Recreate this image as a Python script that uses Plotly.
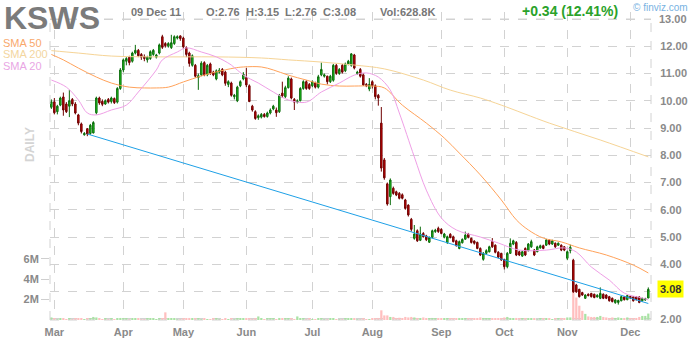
import pandas as pd
import plotly.graph_objects as go

# ---------------- data ----------------
holidays = ["2011-04-22", "2011-05-30", "2011-07-04", "2011-09-05", "2011-11-24"]
dates = [d.strftime("%Y-%m-%d") for d in pd.bdate_range("2011-02-28", "2011-12-09")
         if d.strftime("%Y-%m-%d") not in holidays]

opens = [9.76, 9.96, 9.6, 9.84, 10.14, 9.88, 9.8, 10.05, 9.88, 9.48,
         9.15, 8.75, 8.97, 8.8, 8.82, 9.56, 10.1, 9.98, 9.88, 10.05,
         9.97, 10.08, 9.95, 10.45, 11.13, 11.45, 11.6, 11.45, 11.75, 11.85,
         11.7, 11.62, 11.5, 11.55, 11.7, 11.6, 11.75, 12.35, 12.1, 12.0,
         11.95, 12.1, 12.3, 12.38, 12.3, 11.95, 11.75, 11.3, 11.3, 10.85,
         10.95, 11.4, 10.95, 11.35, 11.05, 10.8, 11.05, 11.15, 11.05, 10.6,
         10.65, 10.15, 10.0, 10.55, 10.8, 10.85, 10.55, 9.8, 9.6, 9.38,
         9.4, 9.5, 9.42, 9.55, 9.7, 9.66, 9.6, 10.28, 10.15, 10.48,
         10.8, 10.05, 9.95, 10.0, 10.45, 10.7, 10.6, 10.55, 10.65, 10.5,
         10.95, 10.9, 10.9, 10.7, 10.75, 11.3, 11.0, 11.3, 11.1, 11.35,
         11.3, 11.68, 11.0, 11.15, 10.95, 10.6, 10.43, 10.7, 10.55, 10.2,
         9.18, 7.83, 6.95, 6.48, 6.79, 6.66, 6.6, 6.55, 6.36, 6.17,
         5.65, 4.95, 5.23, 4.88, 5.13, 5.04, 4.81, 4.99, 5.2, 5.32,
         5.28, 4.99, 4.79, 5.1, 5.01, 4.86, 4.58, 4.79, 4.92, 5.11,
         4.95, 4.85, 4.8, 4.58, 4.18, 4.4, 4.46, 4.83, 4.7, 4.44,
         4.4, 4.18, 3.91, 4.4, 4.74, 4.8, 4.46, 4.3, 4.58, 4.5,
         4.64, 4.52, 4.46, 4.6, 4.68, 4.7, 4.88, 4.74, 4.77, 4.7,
         4.7, 4.64, 4.22, 4.5, 4.15, 3.24, 3.08, 2.96, 2.75, 2.9,
         2.93, 2.9, 2.8, 2.75, 2.9, 2.87, 2.81, 2.75, 2.59, 2.6,
         2.66, 2.8, 2.7, 2.82, 2.8, 2.8, 2.8, 2.66, 2.69, 2.76]
highs = [10.05, 10.1, 9.85, 10.15, 10.3, 9.95, 10.4, 10.1, 9.95, 9.52,
         9.2, 8.85, 9.0, 9.15, 9.25, 10.15, 10.15, 10.05, 10.05, 10.1,
         10.15, 10.12, 10.5, 11.2, 11.55, 11.6, 11.65, 11.8, 12.05, 11.9,
         11.75, 11.7, 11.65, 11.85, 11.9, 11.72, 12.1, 12.42, 12.15, 12.15,
         12.42, 12.4, 12.4, 12.4, 12.35, 12.0, 11.8, 11.7, 11.35, 11.0,
         11.45, 11.45, 11.35, 11.4, 11.1, 11.15, 11.2, 11.2, 11.1, 10.75,
         10.7, 10.25, 10.55, 10.75, 11.05, 11.2, 10.6, 9.85, 9.65, 9.5,
         9.55, 9.55, 9.6, 9.72, 9.85, 9.75, 10.25, 10.7, 10.55, 10.9,
         10.85, 10.1, 10.05, 10.5, 10.75, 10.75, 10.65, 10.75, 10.7, 10.95,
         11.4, 11.0, 10.92, 10.95, 11.35, 11.35, 11.2, 11.35, 11.4, 11.5,
         11.75, 11.72, 11.1, 11.2, 11.0, 10.65, 10.83, 10.75, 10.6, 10.25,
         9.77, 7.9, 7.0, 7.15, 6.85, 6.7, 6.65, 6.6, 6.4, 6.2,
         5.7, 5.44, 5.28, 5.38, 5.18, 5.08, 5.02, 5.27, 5.3, 5.38,
         5.32, 5.15, 5.05, 5.14, 5.05, 4.9, 4.87, 4.95, 5.2, 5.15,
         4.98, 4.88, 4.83, 4.62, 4.45, 4.55, 4.68, 4.96, 4.73, 4.48,
         4.42, 4.2, 4.45, 4.95, 4.9, 4.85, 4.5, 4.5, 4.62, 4.78,
         4.9, 4.56, 4.68, 4.72, 4.72, 4.93, 4.92, 4.9, 4.8, 4.8,
         4.73, 4.67, 4.5, 4.72, 4.2, 3.28, 3.1, 2.99, 2.9, 2.93,
         2.95, 2.92, 2.9, 3.15, 2.93, 2.9, 2.84, 2.78, 2.72, 2.7,
         2.85, 2.83, 2.88, 2.85, 2.83, 2.83, 2.82, 2.77, 2.77, 3.15]
lows = [9.7, 9.5, 9.5, 9.8, 9.45, 9.55, 9.4, 9.8, 9.5, 9.1,
        8.8, 8.72, 8.7, 8.75, 8.8, 9.5, 9.85, 9.8, 9.85, 9.9,
        9.9, 9.88, 9.9, 10.4, 11.05, 11.3, 11.3, 11.4, 11.7, 11.6,
        11.5, 11.45, 11.4, 11.5, 11.65, 11.55, 11.7, 11.9, 11.95, 11.95,
        11.9, 12.05, 12.25, 12.2, 11.9, 11.6, 11.25, 11.25, 10.85, 10.4,
        10.9, 10.9, 10.9, 10.95, 10.9, 10.75, 11.0, 10.9, 10.55, 10.5,
        10.15, 10.05, 9.95, 10.5, 10.75, 10.5, 9.95, 9.6, 9.3, 9.3,
        9.35, 9.38, 9.38, 9.5, 9.65, 9.41, 9.55, 10.1, 10.1, 10.45,
        10.05, 9.66, 9.9, 9.98, 10.4, 10.4, 10.4, 10.5, 10.45, 10.45,
        10.9, 10.85, 10.6, 10.65, 10.7, 10.95, 10.95, 11.0, 11.05, 11.3,
        11.25, 11.15, 10.95, 10.85, 10.55, 10.5, 10.35, 10.45, 10.05, 9.82,
        7.4, 7.1, 6.15, 6.17, 6.55, 6.5, 6.38, 6.38, 6.0, 5.75,
        5.2, 4.9, 4.82, 4.85, 4.98, 4.85, 4.78, 4.95, 5.15, 5.15,
        5.1, 4.95, 4.75, 4.95, 4.8, 4.65, 4.55, 4.76, 4.9, 4.95,
        4.76, 4.72, 4.55, 4.3, 4.13, 4.37, 4.43, 4.6, 4.4, 4.22,
        4.12, 3.81, 3.85, 4.38, 4.7, 4.3, 4.3, 4.27, 4.3, 4.47,
        4.6, 4.3, 4.44, 4.57, 4.55, 4.67, 4.7, 4.71, 4.6, 4.67,
        4.48, 4.48, 4.15, 4.4, 2.95, 2.95, 2.78, 2.84, 2.73, 2.82,
        2.78, 2.75, 2.78, 2.72, 2.72, 2.72, 2.63, 2.6, 2.55, 2.52,
        2.64, 2.67, 2.68, 2.72, 2.63, 2.67, 2.57, 2.63, 2.66, 2.76]
closes = [9.96, 9.56, 9.8, 10.1, 9.66, 9.6, 10.0, 9.88, 9.55, 9.18,
          8.87, 8.8, 8.78, 9.1, 9.2, 10.1, 9.92, 9.87, 10.0, 9.95,
          10.1, 9.93, 10.45, 11.13, 11.5, 11.55, 11.4, 11.75, 11.85, 11.65,
          11.6, 11.55, 11.6, 11.8, 11.85, 11.68, 12.05, 11.96, 12.02, 12.1,
          12.13, 12.35, 12.35, 12.28, 11.98, 11.7, 11.37, 11.65, 10.9, 10.92,
          11.38, 10.95, 11.3, 11.0, 10.95, 11.1, 11.12, 10.95, 10.64, 10.7,
          10.2, 10.2, 10.5, 10.7, 10.98, 10.58, 9.97, 9.66, 9.35, 9.45,
          9.5, 9.42, 9.55, 9.66, 9.8, 9.56, 10.2, 10.18, 10.48, 10.83,
          10.1, 9.95, 10.0, 10.45, 10.7, 10.45, 10.45, 10.7, 10.5, 10.88,
          11.15, 10.95, 10.7, 10.9, 11.3, 11.0, 11.15, 11.05, 11.35, 11.45,
          11.72, 11.2, 11.05, 10.9, 10.58, 10.55, 10.6, 10.55, 10.15, 10.1,
          7.53, 7.17, 6.21, 7.09, 6.6, 6.54, 6.42, 6.42, 6.05, 5.81,
          5.28, 5.11, 4.86, 5.11, 5.01, 4.9, 4.98, 5.23, 5.25, 5.2,
          5.13, 5.11, 5.01, 4.98, 4.83, 4.68, 4.83, 4.91, 5.07, 4.99,
          4.8, 4.77, 4.58, 4.34, 4.4, 4.5, 4.64, 4.64, 4.44, 4.26,
          4.16, 3.91, 4.4, 4.77, 4.86, 4.34, 4.34, 4.46, 4.34, 4.74,
          4.83, 4.34, 4.64, 4.68, 4.58, 4.89, 4.74, 4.86, 4.64, 4.77,
          4.52, 4.52, 4.46, 4.62, 2.99, 2.99, 2.81, 2.87, 2.87, 2.85,
          2.81, 2.78, 2.86, 2.93, 2.75, 2.75, 2.66, 2.63, 2.69, 2.67,
          2.81, 2.7, 2.85, 2.76, 2.66, 2.7, 2.6, 2.75, 2.74, 3.08]
volume_m = [0.25, 0.1, 0.08, 0.1, 0.12, 0.08, 0.1, 0.06, 0.1, 0.12,
            0.15, 0.08, 0.1, 0.12, 0.3, 0.25, 0.1, 0.08, 0.1, 0.06,
            0.1, 0.08, 0.15, 0.2, 0.2, 0.12, 0.08, 0.1, 0.1, 0.12,
            0.08, 0.06, 0.1, 0.12, 0.1, 0.08, 0.2, 0.15, 0.75, 0.1,
            0.1, 0.12, 0.08, 0.06, 0.1, 0.12, 0.2, 0.1, 0.15, 0.1,
            0.08, 0.1, 0.06, 0.08, 0.1, 0.12, 0.06, 0.08, 0.1, 0.08,
            0.1, 0.08, 0.12, 0.1, 0.15, 0.1, 0.12, 0.08, 0.1, 0.35,
            0.1, 0.08, 0.1, 0.12, 0.1, 0.08, 0.2, 0.1, 0.12, 0.1,
            0.1, 0.08, 0.35, 0.1, 0.12, 0.08, 0.1, 0.08, 0.06, 0.1,
            0.12, 0.08, 0.06, 0.1, 0.12, 0.08, 0.06, 0.08, 0.1, 0.12,
            0.15, 0.12, 0.06, 0.08, 0.1, 0.06, 0.08, 0.1, 0.15, 0.2,
            0.95, 0.45, 0.45, 0.3, 0.3, 0.2, 0.22, 0.18, 0.3, 0.25,
            0.3, 0.25, 0.2, 0.15, 0.25, 0.12, 0.15, 0.2, 0.1, 0.12,
            0.15, 0.1, 0.12, 0.1, 0.12, 0.15, 0.2, 0.1, 0.12, 0.1,
            0.12, 0.1, 0.15, 0.25, 0.2, 0.12, 0.1, 0.12, 0.15, 0.12,
            0.15, 0.25, 0.3, 0.2, 0.12, 0.2, 0.1, 0.12, 0.15, 0.1,
            0.12, 0.1, 0.08, 0.1, 0.12, 0.1, 0.12, 0.08, 0.15, 0.1,
            0.2, 0.15, 0.25, 0.25, 3.6, 2.2, 1.4, 0.9, 0.6, 0.35,
            0.3, 0.3, 0.3, 0.4, 0.3, 0.25, 0.2, 0.25, 0.2, 0.25,
            0.2, 0.15, 0.25, 0.2, 0.15, 0.2, 0.3, 0.4, 0.4, 0.63]

# moving averages (trading-day index, value)
sma20_idx = [0, 5, 9, 12, 15, 20, 25, 29, 35, 37, 42, 45, 50, 55, 60, 64, 69, 74, 79, 85,
             90, 96, 101, 105, 109, 113, 116, 121, 125, 130, 135, 143, 149, 156, 165, 171,
             175, 180, 186, 191, 197, 199]
sma20_val = [10.76, 10.50, 10.03, 9.55, 9.48, 9.66, 9.84, 10.32, 11.13, 11.50, 11.79, 11.94,
             11.79, 11.61, 11.31, 10.94, 10.65, 10.32, 10.03, 9.95, 10.32, 10.65, 10.94, 11.02,
             10.87, 10.39, 9.55, 7.94, 6.72, 5.70, 5.26, 5.00, 4.78, 4.52, 4.52, 4.60, 4.45,
             3.90, 3.42, 2.94, 2.76, 2.69]
sma50_idx = [0, 4, 9, 15, 20, 26, 31, 35, 39, 44, 50, 55, 61, 64, 70, 74, 79, 85, 90, 96,
             101, 107, 111, 117, 125, 131, 136, 143, 150, 155, 159, 164, 170, 176, 185, 194, 199]
sma50_val = [11.70, 11.50, 11.20, 10.87, 10.65, 10.50, 10.47, 10.47, 10.50, 10.69, 10.91,
             11.06, 11.20, 11.24, 11.24, 11.13, 10.94, 10.76, 10.61, 10.54, 10.54, 10.54, 10.47,
             9.84, 9.18, 8.63, 8.08, 7.28, 6.36, 5.63, 5.26, 4.96, 4.82, 4.60, 4.34, 3.97, 3.68]
sma200_idx = [0, 9, 20, 35, 55, 70, 79, 90, 101, 111, 124, 133, 143, 150, 166, 183, 199]
sma200_val = [11.84, 11.75, 11.64, 11.61, 11.61, 11.57, 11.50, 11.42, 11.31, 11.17, 10.76,
              10.39, 10.10, 9.84, 9.18, 8.56, 7.94]
trend_idx = [12, 199]
trend_val = [8.78, 2.56]

month_labels = ["Mar", "Apr", "May", "Jun", "Jul", "Aug", "Sep", "Oct", "Nov", "Dec"]
price_ticks = [2, 3, 4, 5, 6, 7, 8, 9, 10, 11, 12, 13]
price_tick_labels = ["2.00", "", "4.00", "5.00", "6.00", "7.00", "8.00", "9.00", "10.00",
                     "11.00", "12.00", ""]
top_price = 13
top_price_label = "13.00"
vol_ticks = [2e6, 4e6, 6e6]
vol_tick_labels = ["2M", "4M", "6M"]

# --------------- derived ---------------
month_ticks = []
seen = set()
for d in dates:
    m = d[:7]
    if m not in seen:
        seen.add(m)
        if m != "2011-02":
            month_ticks.append(d)

volume = [v * 1e6 for v in volume_m]
vol_colors = ["#a9e2a4" if c >= o else "#ffbfbf" for o, c in zip(opens, closes)]

# plot area in pixels (top of plot a few px above the 13.00 line)
L, R, T, B = 50, 651, 12, 320
W, H = 700, 340
PX_PER_DOLLAR = 27.25
Y13 = 19  # pixel row of the 13.00 line
def px(x):
    return (x - L) / (R - L)
def py(y):
    return (B - y) / (B - T)

GRID = "#d2d2d2"
FONT = "Liberation Sans, Arial, sans-serif"

fig = go.Figure()
fig.add_trace(go.Bar(x=dates, y=volume, marker=dict(color=vol_colors, line=dict(width=0)),
                     yaxis="y", hoverinfo="skip", showlegend=False))
fig.add_trace(go.Scatter(x=[dates[i] for i in sma200_idx], y=sma200_val, mode="lines",
                         line=dict(color="#f6d496", width=1, shape="spline"), yaxis="y2",
                         showlegend=False))
fig.add_trace(go.Scatter(x=[dates[i] for i in sma50_idx], y=sma50_val, mode="lines",
                         line=dict(color="#ffa25a", width=1, shape="spline"), yaxis="y2",
                         showlegend=False))
fig.add_trace(go.Scatter(x=[dates[i] for i in sma20_idx], y=sma20_val, mode="lines",
                         line=dict(color="#ef9fe6", width=1, shape="spline"), yaxis="y2",
                         showlegend=False))
fig.add_trace(go.Scatter(x=[dates[i] for i in trend_idx], y=trend_val, mode="lines",
                         line=dict(color="#1fa0e6", width=1), yaxis="y2", showlegend=False))
fig.add_trace(go.Candlestick(x=dates, open=opens, high=highs, low=lows, close=closes,
                             increasing=dict(line=dict(color="#0b6b0b", width=1), fillcolor="#1fd01f"),
                             decreasing=dict(line=dict(color="#6e0000", width=1), fillcolor="#d20000"),
                             whiskerwidth=0, yaxis="y2", showlegend=False))

tickfont = dict(family=FONT, size=11, color="#8a8a8a", weight="bold")
fig.update_layout(
    width=W, height=H,
    margin=dict(l=L, r=W - R, t=T, b=H - B, autoexpand=False),
    paper_bgcolor="white", plot_bgcolor="white",
    showlegend=False, bargap=0.25,
    title=dict(text=top_price_label, xref="container", yref="container",
               x=(R + 8) / W, y=1 - Y13 / H, xanchor="left", yanchor="middle",
               pad=dict(t=0, b=0, l=0, r=0), font=tickfont),
    xaxis=dict(type="category", range=[-0.45, 199.9], rangeslider=dict(visible=False),
               tickmode="array", tickvals=month_ticks, ticktext=month_labels,
               showgrid=True, gridcolor=GRID, griddash="dash", gridwidth=1,
               ticks="outside", ticklen=2, tickcolor="rgba(0,0,0,0)", tickfont=tickfont,
               showline=False, zeroline=False, automargin=False),
    yaxis=dict(range=[0, (B - T) / 10.2 * 1e6], side="left", tickmode="array",
               tickvals=vol_ticks, ticktext=vol_tick_labels, showgrid=False, zeroline=False,
               ticks="outside", ticklen=8, tickcolor="#cfcfcf", tickfont=tickfont,
               automargin=False),
    yaxis2=dict(range=[13 - (B - Y13) / PX_PER_DOLLAR, 13 + (Y13 - T) / PX_PER_DOLLAR],
                side="right", overlaying="y",
                tickmode="array", tickvals=price_ticks, ticktext=price_tick_labels,
                showgrid=True, gridcolor=GRID, griddash="dash", gridwidth=1, zeroline=False,
                ticks="outside", ticklen=6, tickcolor="rgba(0,0,0,0)", tickfont=tickfont,
                automargin=False),
)

# frame (dashed): left, right, bottom
y13 = py(Y13)
for x0, y0, x1, y1 in [(0, 0, 0, y13), (1, 0, 1, y13), (0, 0, 1, 0)]:
    fig.add_shape(type="line", xref="paper", yref="paper", x0=x0, y0=y0, x1=x1, y1=y1,
                  line=dict(color=GRID, width=1, dash="dash"), layer="above")
# 13.00 line
fig.add_shape(type="line", xref="paper", yref="y2", x0=0, x1=1, y0=top_price, y1=top_price,
              line=dict(color=GRID, width=1, dash="dash"), layer="above")

def text(x, y, s, size, color, bold=False, anchor="left", angle=0):
    fig.add_annotation(x=px(x), y=py(y), xref="paper", yref="paper", text=s, showarrow=False,
                       xanchor=anchor, yanchor="middle", textangle=angle, borderpad=0,
                       font=dict(family=FONT, size=size, color=color,
                                 weight="bold" if bold else "normal"))

text(3, 18, "KSWS", 32, "#7b7b7b", True)
text(130, 12, "09 Dec 11", 11, "#777777", True)
text(205, 12, "O:2.76", 11, "#777777", True)
text(245, 12, "H:3.15", 11, "#777777", True)
text(284, 12, "L:2.76", 11, "#777777", True)
text(322, 12, "C:3.08", 11, "#777777", True)
text(379, 12, "Vol:628.8K", 11, "#777777", True)
text(521, 11, "+0.34 (12.41%)", 14, "#2aa22a", True)
text(632, 7, "© finviz.com", 10, "#78b2e2", False)
text(2, 43, "SMA 50", 11, "#f9a86c", False)
text(2, 54, "SMA 200", 11, "#f3d6a0", False)
text(2, 66, "SMA 20", 11, "#e9a6e4", False)
text(30, 145, "DAILY", 12, "#d4d4d4", True, anchor="center", angle=-90)

# last price tag
fig.add_annotation(x=1, y=closes[-1], xref="paper", yref="y2", text="3.08", showarrow=False,
                   xanchor="left", yanchor="middle", xshift=6, bgcolor="#ffff00", borderpad=2,
                   font=dict(family=FONT, size=11, color="#333333", weight="bold"))

fig.write_html("out.html", config={"displayModeBar": False})
